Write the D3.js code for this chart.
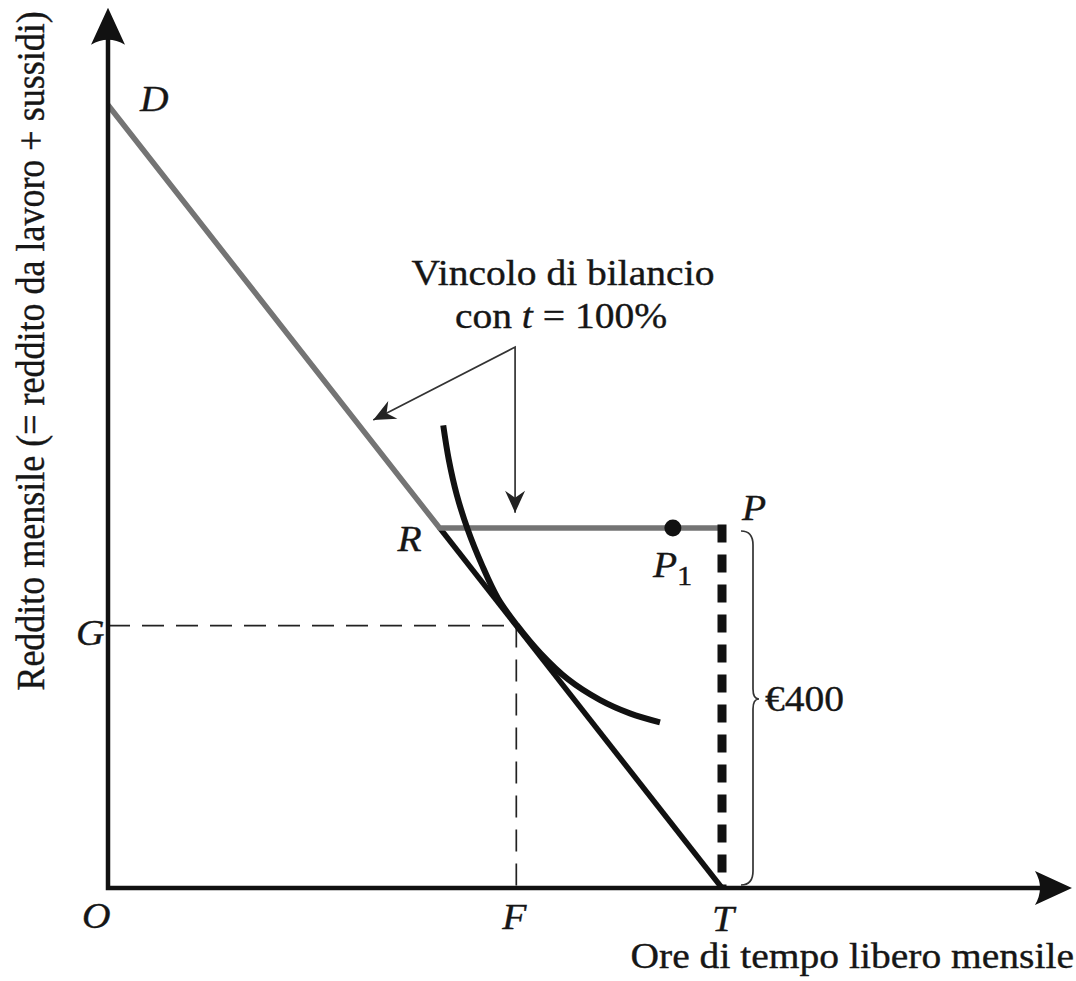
<!DOCTYPE html>
<html><head><meta charset="utf-8">
<script src="https://cdn.jsdelivr.net/npm/d3@7"></script>
<style>
body{margin:0;background:#fff}
svg{display:block}
text{font-family:"Liberation Serif","Times New Roman",serif;fill:#161616;stroke:#161616;stroke-width:0.35px}
</style>
</head><body>
<svg id="c" width="1076" height="981"></svg>
<script>
// ---------- data (abstract units: leisure hours on x, € on y) ----------
const totalTime = 100;          // T
const subsidy = 400;            // €400 (height of P)
const wage = 8.7;               // € per hour worked (slope of DT)
const kinkX = 54;               // R
const tangentX = 66.5;          // F (tangent point)
const p1X = 92;                 // P1
const axisEnd = [157, 978];     // arrow tips of x and y axes
const curveX = [54.6, 55.5, 56.8, 58.6, 60.9, 63.5, 66.6, 70.4, 74.9, 80.1, 85.0, 89.9];
const curveY = [514, 476, 437, 398, 359, 322, 292, 261, 232, 209, 194, 184];
const annVertex = [66.3, 601];  // where the two annotation arrows start
const annTipLeft = [43.2, 520];
const annTipDown = [66.3, 417];
const pointLabels = ["O", "D", "R", "P", "G", "F", "T"];
const titleLines = ["Vincolo di bilancio", "con ", "t", " = 100%"];
const yTitle = "Reddito mensile (= reddito da lavoro + sussidi)";
const xTitle = "Ore di tempo libero mensile";
const braceLabel = "€400";

// ---------- scales ----------
const x = d3.scaleLinear().domain([0, totalTime]).range([108, 722]);
const y = d3.scaleLinear().domain([0, subsidy]).range([888, 528]);
const svg = d3.select("#c");
const SX = 1.13, FS = 35;

const maxIncome = wage * totalTime;
const D = [0, maxIncome];
const R = [kinkX, wage * (totalTime - kinkX)];
const P = [totalTime, subsidy];
const Tp = [totalTime, 0];
const G = wage * (totalTime - tangentX);

const line = d3.line().x(d => x(d[0])).y(d => y(d[1]));

// thin dashed guides
svg.append("path").attr("d", line([[0, G], [tangentX, G], [tangentX, 0]]))
  .attr("fill", "none").attr("stroke", "#222").attr("stroke-width", 1.7)
  .attr("stroke-dasharray", "22,12");

// black line R-T
svg.append("path").attr("d", line([R, Tp])).attr("fill", "none")
  .attr("stroke", "#111").attr("stroke-width", 5.5);

// gray budget constraint D-R-P
svg.append("path").attr("d", line([D, [kinkX, subsidy], P])).attr("fill", "none")
  .attr("stroke", "#747474").attr("stroke-width", 5.5).attr("stroke-linejoin", "miter");

// indifference curve
const curvePts = curveX.map((v, i) => [v, curveY[i]]);
svg.append("path").attr("d", d3.line().x(d => x(d[0])).y(d => y(d[1])).curve(d3.curveCatmullRom)(curvePts))
  .attr("fill", "none").attr("stroke", "#111").attr("stroke-width", 6).attr("stroke-linecap", "butt");

// axes
svg.append("path").attr("d", line([[0, axisEnd[1] - 30], [0, 0], [axisEnd[0] - 4, 0]]))
  .attr("fill", "none").attr("stroke", "#111").attr("stroke-width", 4.5).attr("stroke-linejoin", "miter");
// arrowheads on axes
const ty = [x(0), y(axisEnd[1])];
svg.append("path").attr("d", `M${ty[0]},${ty[1]} L${ty[0] + 17},${ty[1] + 37} Q${ty[0]},${ty[1] + 27} ${ty[0] - 17},${ty[1] + 37} Z`).attr("fill", "#111");
const tx = [x(axisEnd[0]), y(0)];
svg.append("path").attr("d", `M${tx[0]},${tx[1]} L${tx[0] - 37},${tx[1] - 17} Q${tx[0] - 27},${tx[1]} ${tx[0] - 37},${tx[1] + 17} Z`).attr("fill", "#111");

// thick dashed P-T
svg.append("path").attr("d", line([[totalTime, subsidy + 4], Tp])).attr("fill", "none")
  .attr("stroke", "#111").attr("stroke-width", 9).attr("stroke-dasharray", "18,12");

// P1 dot
svg.append("circle").attr("cx", x(p1X)).attr("cy", y(subsidy)).attr("r", 8.5).attr("fill", "#111");

// annotation arrows
function arrowHead(tip, from) {
  const ang = Math.atan2(tip[1] - from[1], tip[0] - from[0]);
  const L = 22, W = 10, N = 15;
  const p = (d, s) => [tip[0] - Math.cos(ang) * d - Math.sin(ang) * s, tip[1] - Math.sin(ang) * d + Math.cos(ang) * s];
  const a = p(L, W), b = p(N, 0), c = p(L, -W);
  svg.append("path").attr("d", `M${tip[0]},${tip[1]} L${a[0]},${a[1]} L${b[0]},${b[1]} L${c[0]},${c[1]} Z`).attr("fill", "#222");
}
const v = [x(annVertex[0]), y(annVertex[1])];
const tl = [x(annTipLeft[0]), y(annTipLeft[1])];
const td = [x(annTipDown[0]), y(annTipDown[1])];
svg.append("path").attr("d", `M${tl[0]},${tl[1]} L${v[0]},${v[1]} L${td[0]},${td[1]}`)
  .attr("fill", "none").attr("stroke", "#333").attr("stroke-width", 1.7);
arrowHead(tl, v);
arrowHead(td, v);

// brace for €400
const bx = x(totalTime) + 31, bTop = y(subsidy) + 3, bBot = y(0) - 3, bMid = y(subsidy / 2) - 9;
svg.append("path").attr("d",
  `M${bx - 12},${bTop} Q${bx},${bTop} ${bx},${bTop + 14} L${bx},${bMid - 10} Q${bx},${bMid} ${bx + 6},${bMid} Q${bx},${bMid} ${bx},${bMid + 10} L${bx},${bBot - 14} Q${bx},${bBot} ${bx - 12},${bBot}`)
  .attr("fill", "none").attr("stroke", "#333").attr("stroke-width", 1.7);

// text helper
function txt(str, px, py, opts = {}) {
  const t = svg.append("text")
    .attr("transform", `translate(${px},${py}) scale(${SX},1)`)
    .attr("font-size", opts.size || FS)
    .attr("text-anchor", opts.anchor || "start")
    .attr("font-style", opts.italic ? "italic" : "normal")
    .text(str);
  return t;
}

// point labels
txt(pointLabels[0], x(0) - 26, y(0) + 40, {italic: true});
txt(pointLabels[1], x(D[0]) + 32, y(D[1]) + 6, {italic: true});
txt(pointLabels[2], x(kinkX) - 42, y(subsidy) + 23, {italic: true});
txt(pointLabels[3], x(totalTime) + 20, y(subsidy) - 8, {italic: true});
txt(pointLabels[4], x(0) - 32, y(G) + 19, {italic: true});
txt(pointLabels[5], x(tangentX) - 2, y(0) + 41, {italic: true, anchor: "middle"});
txt(pointLabels[6], x(totalTime) + 1, y(0) + 43, {italic: true, anchor: "middle"});
// P1
const p1t = txt("P", x(p1X) - 20, y(subsidy) + 49, {italic: true});
p1t.append("tspan").attr("font-style", "normal").attr("font-size", 27).attr("dy", 8).attr("dx", 0).text("1");

// brace label
txt(braceLabel, bx + 12, bMid + 12);

// annotation text
txt(titleLines[0], 563, 285, {anchor: "middle"});
const l2 = txt(titleLines[1], 561, 328, {anchor: "middle"});
l2.append("tspan").attr("font-style", "italic").text(titleLines[2]);
l2.append("tspan").text(titleLines[3]);

// axis titles
txt(xTitle, 1074, 968, {anchor: "end"});
svg.append("text")
  .attr("transform", "translate(44,351) rotate(-90) scale(1,1.1)")
  .attr("font-size", 36).attr("text-anchor", "middle").text(yTitle);
</script>
</body></html>
